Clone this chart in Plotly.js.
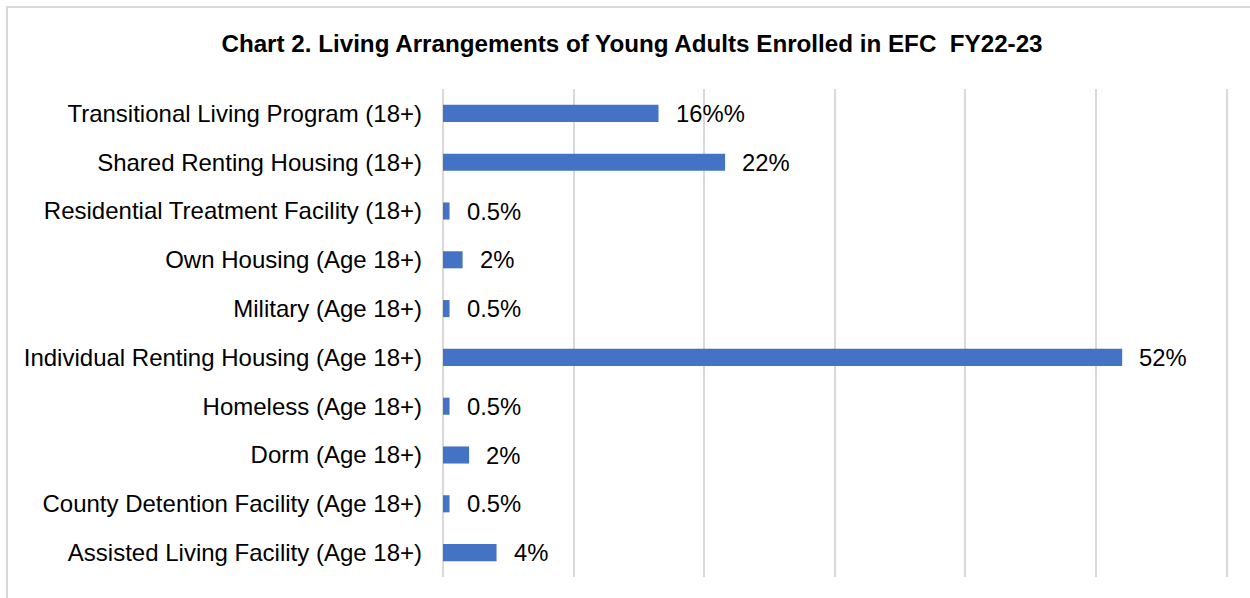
<!DOCTYPE html>
<html>
<head>
<meta charset="utf-8">
<script src="https://cdn.plot.ly/plotly-3.0.1.min.js"></script>
<style>
  html, body { margin: 0; padding: 0; background: #ffffff; overflow: hidden; }
  #frame { position: absolute; left: 6px; top: 6px; width: 1300px; height: 700px; border: 2px solid #d9d9d9; box-sizing: border-box; }
  #chart { position: absolute; left: 0; top: 0; width: 1250px; height: 598px; }
</style>
</head>
<body>
<div id="frame"></div>
<div id="chart"></div>
<script>
const categories = [
  "Transitional Living Program (18+)",
  "Shared Renting Housing (18+)",
  "Residential Treatment Facility (18+)",
  "Own Housing (Age 18+)",
  "Military (Age 18+)",
  "Individual Renting Housing (Age 18+)",
  "Homeless (Age 18+)",
  "Dorm (Age 18+)",
  "County Detention Facility (Age 18+)",
  "Assisted Living Facility (Age 18+)"
];
const values = [16.5, 21.6, 0.5, 1.5, 0.5, 52, 0.5, 2, 0.5, 4.1];
const valueLabels = ["16%%", "22%", "0.5%", "2%", "0.5%", "52%", "0.5%", "2%", "0.5%", "4%"];
const titleText = "Chart 2. Living Arrangements of Young Adults Enrolled in EFC  FY22-23";

const fontFamily = 'Arial, "Liberation Sans", sans-serif';

const trace = {
  type: 'bar',
  orientation: 'h',
  x: values,
  y: categories,
  marker: { color: '#4472C4' },
  hoverinfo: 'skip',
  cliponaxis: false
};

const annotations = values.map((v, i) => ({
  x: v,
  y: categories[i],
  xref: 'x',
  yref: 'y',
  text: valueLabels[i],
  showarrow: false,
  xanchor: 'left',
  yanchor: 'middle',
  xshift: 15,
  font: { family: fontFamily, size: 23.8, color: '#000000' }
}));

const layout = {
  width: 1250,
  height: 598,
  paper_bgcolor: 'rgba(0,0,0,0)',
  plot_bgcolor: 'rgba(0,0,0,0)',
  margin: { l: 443, r: 22, t: 88.5, b: 20.5, pad: 0 },
  showlegend: false,
  bargap: 0.65,
  title: {
    text: '<b>' + titleText + '</b>',
    font: { family: fontFamily, size: 24.2, color: '#000000' },
    x: 0.5056,
    xref: 'container',
    xanchor: 'center',
    y: 1 - 44 / 598,
    yref: 'container',
    yanchor: 'middle'
  },
  xaxis: {
    range: [0, 60.1],
    dtick: 10,
    tick0: 0,
    showticklabels: false,
    ticks: '',
    showgrid: true,
    gridcolor: '#d9d9d9',
    gridwidth: 2,
    zeroline: true,
    zerolinecolor: '#d9d9d9',
    zerolinewidth: 2,
    showline: false,
    fixedrange: true
  },
  yaxis: {
    type: 'category',
    autorange: 'reversed',
    showgrid: false,
    zeroline: false,
    showline: false,
    ticks: '',
    ticklabelstandoff: 20,
    tickfont: { family: fontFamily, size: 24, color: '#000000' },
    fixedrange: true
  },
  annotations: annotations
};

Plotly.newPlot('chart', [trace], layout, { displayModeBar: false, staticPlot: true });
</script>
</body>
</html>
